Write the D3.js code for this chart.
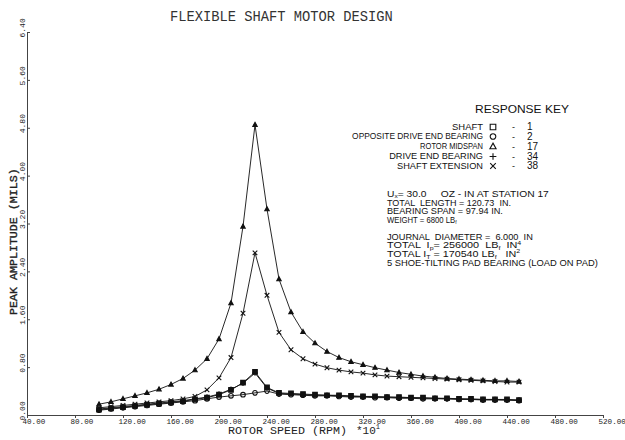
<!DOCTYPE html>
<html><head><meta charset="utf-8">
<script src="https://cdn.jsdelivr.net/npm/d3@7"></script>
<style>
body{margin:0;background:#fff;}
svg{display:block;}
</style></head>
<body>
<svg id="c" width="625" height="440"></svg>
<script>
// ---- data ----
const speeds = [100,110,120,130,140,150,160,170,180,190,200,210,220,230,240,250,260,270,280,290,300,310,320,330,340,350,360,370,380,390,400,410,420,430,440,450];
const shaft      = [0.09,0.11,0.13,0.15,0.17,0.19,0.21,0.23,0.26,0.29,0.34,0.42,0.54,0.72,0.46,0.37,0.36,0.35,0.34,0.33,0.33,0.32,0.31,0.31,0.30,0.30,0.29,0.29,0.28,0.28,0.27,0.27,0.26,0.26,0.26,0.25];
const oppDrive   = [0.08,0.10,0.12,0.14,0.16,0.18,0.20,0.22,0.24,0.27,0.30,0.32,0.34,0.37,0.40,0.35,0.34,0.33,0.32,0.32,0.31,0.30,0.30,0.29,0.29,0.28,0.28,0.27,0.27,0.27,0.26,0.26,0.25,0.25,0.25,0.24];
const midspan    = [0.18,0.22,0.27,0.32,0.37,0.43,0.51,0.61,0.75,0.94,1.27,1.87,3.15,4.85,3.44,2.27,1.72,1.39,1.20,1.06,0.96,0.89,0.84,0.79,0.75,0.71,0.68,0.65,0.63,0.61,0.60,0.59,0.58,0.57,0.57,0.56];
const driveEnd   = [0.10,0.12,0.14,0.16,0.18,0.20,0.22,0.24,0.27,0.30,0.35,0.43,0.53,0.70,0.45,0.36,0.35,0.34,0.33,0.33,0.32,0.31,0.31,0.30,0.30,0.29,0.29,0.28,0.28,0.27,0.27,0.26,0.26,0.26,0.25,0.25];
const extension  = [0.12,0.14,0.16,0.18,0.20,0.22,0.24,0.27,0.31,0.42,0.62,0.96,1.70,2.71,2.00,1.38,1.09,0.94,0.85,0.79,0.75,0.72,0.70,0.67,0.65,0.64,0.63,0.62,0.61,0.60,0.59,0.58,0.57,0.56,0.55,0.55];

const xTicks = [40,80,120,160,200,240,280,320,360,400,440,480,520];
const xTickLabels = ["40.00","80.00","120.00","160.00","200.00","240.00","280.00","320.00","360.00","400.00","440.00","480.00","520.00"];
const yTicks = [0,0.8,1.6,2.4,3.2,4.0,4.8,5.6,6.4];
const yTickLabels = ["0.00","0.80","1.60","2.40","3.20","4.00","4.80","5.60","6.40"];

const legendNames = ["SHAFT","OPPOSITE DRIVE END BEARING","ROTOR MIDSPAN","DRIVE END BEARING","SHAFT EXTENSION"];
const legendStations = ["1","2","17","34","38"];
const legendSymbols = ["square","circle","triangle","plus","cross"];

const title = "FLEXIBLE SHAFT MOTOR DESIGN";
const xTitle = "ROTOR SPEED (RPM)";
const yTitle = "PEAK AMPLITUDE (MILS)";

// ---- setup ----
const svg = d3.select("#c");
const x = d3.scaleLinear().domain([40,520]).range([27,603]);
const y = d3.scaleLinear().domain([0,6.4]).range([415,32]);
const ink = "#111";
const mono = "Liberation Mono, monospace";

function fit(sel, ax, w){
  const bw = sel.node().getComputedTextLength();
  if(bw>0){ const s = w/bw; sel.attr("transform",`translate(${ax},0) scale(${s},1) translate(${-ax},0)`); }
}

// title
const t = svg.append("text").attr("x",170).attr("y",21).attr("font-family",mono)
  .attr("font-size",14).attr("fill","#333").text(title);
fit(t,170,223);

// axes
const xAxis = d3.axisBottom(x).tickValues(xTicks).tickFormat((d,i)=>xTickLabels[i]).tickSizeInner(3).tickSizeOuter(0);
const gx = svg.append("g").attr("transform","translate(0,415)").call(xAxis);
gx.select(".domain").attr("stroke","#444").attr("stroke-width",1);
gx.selectAll(".tick line").attr("stroke","#444");
gx.selectAll(".tick text").attr("text-anchor","start").attr("x",-5).attr("y",8.5).attr("dy",0)
  .attr("font-family",mono).attr("font-size",7.6).attr("fill","#222");

const yAxis = d3.axisLeft(y).tickValues(yTicks).tickFormat((d,i)=>yTickLabels[i]).tickSizeInner(-3).tickSizeOuter(0);
const gy = svg.append("g").attr("transform","translate(27,0)").call(yAxis);
gy.select(".domain").attr("stroke","#444").attr("stroke-width",1);
gy.selectAll(".tick line").attr("stroke","#444");
gy.selectAll(".tick text").attr("text-anchor","start").attr("transform","rotate(-90)")
  .attr("x",-5).attr("y",-2.5).attr("dy",0)
  .attr("font-family",mono).attr("font-size",8).attr("fill","#222");

// axis titles
const xt = svg.append("text").attr("x",228).attr("y",434).attr("font-family",mono)
  .attr("font-size",11).attr("fill","#222").text(xTitle);
fit(xt,228,119);
const xm = svg.append("text").attr("x",356).attr("y",434).attr("font-family",mono)
  .attr("font-size",11).attr("fill","#222");
xm.append("tspan").text("*10");
xm.append("tspan").attr("dy",-5).attr("font-size",7).text("1");

const yt = svg.append("text").attr("transform","translate(17,315) rotate(-90)")
  .attr("font-family",mono).attr("font-size",10.5).attr("stroke","#222").attr("stroke-width",0.35)
  .attr("fill","#222").text(yTitle);
{ const bw = yt.node().getComputedTextLength(); yt.attr("transform",`translate(17,315) rotate(-90) scale(${147/bw},1)`); }

// ---- series ----
const series = [
  {vals: oppDrive, sym:"circle"},
  {vals: driveEnd, sym:"plus"},
  {vals: shaft, sym:"square"},
  {vals: extension, sym:"cross"},
  {vals: midspan, sym:"triangle"}
];
const line = d3.line().x((d,i)=>x(speeds[i])).y(d=>y(d));
const plot = svg.append("g");

function marker(g, type, cx, cy, r, filled){
  let p;
  if(type==="square") p = `M${cx-r},${cy-r}H${cx+r}V${cy+r}H${cx-r}Z`;
  else if(type==="circle") p = `M${cx+r},${cy}A${r},${r} 0 1 1 ${cx-r},${cy}A${r},${r} 0 1 1 ${cx+r},${cy}Z`;
  else if(type==="triangle") p = `M${cx},${cy-r*1.2}L${cx+r*1.1},${cy+r*0.8}L${cx-r*1.1},${cy+r*0.8}Z`;
  else if(type==="plus") p = `M${cx-r*1.2},${cy}H${cx+r*1.2}M${cx},${cy-r*1.2}V${cy+r*1.2}`;
  else p = `M${cx-r},${cy-r}L${cx+r},${cy+r}M${cx-r},${cy+r}L${cx+r},${cy-r}`;
  g.append("path").attr("d",p).attr("stroke",ink).attr("stroke-width",1.1)
    .attr("fill", (filled && (type==="square"||type==="triangle"||type==="circle")) ? ink : "none");
}

series.forEach(s=>{
  plot.append("path").datum(s.vals).attr("d",line).attr("fill","none").attr("stroke",ink).attr("stroke-width",0.9);
  s.vals.forEach((v,i)=>{
    const filled = s.sym==="square" || s.sym==="triangle";
    const r = s.sym==="triangle" ? 2 : 2.3;
    marker(plot, s.sym, x(speeds[i]), y(v), r, filled);
  });
});

// ---- legend ----
const sans = "Liberation Sans, Arial, sans-serif";
const rk = svg.append("text").attr("x",475).attr("y",113).attr("font-family",sans).attr("font-size",11).attr("fill",ink).text("RESPONSE KEY");
fit(rk,475,94);
const legStart = [452,352,420,389,397];
const legBase = [130,139.5,149.5,159.5,169];
legendNames.forEach((n,i)=>{
  const tx = svg.append("text").attr("x",483).attr("y",legBase[i]).attr("text-anchor","end")
    .attr("font-family",sans).attr("font-size",9.5).attr("fill",ink).text(n);
  fit(tx,483,483-legStart[i]);
  const g = svg.append("g");
  marker(g, legendSymbols[i], 493, legBase[i]-3, 2.8, false);
  svg.append("text").attr("x",512).attr("y",legBase[i]).attr("font-family",sans).attr("font-size",9).attr("fill",ink).text("-");
  svg.append("text").attr("x",527).attr("y",legBase[i]).attr("font-family",sans).attr("font-size",10).attr("fill",ink).text(legendStations[i]);
});

// ---- notes ----
const notes = [
  {y:197, w:162, parts:[["U",0],["x",1],["= 30.0     OZ - IN AT STATION 17",0]]},
  {y:206, w:124, parts:[["TOTAL  LENGTH = 120.73  IN.",0]]},
  {y:214.5, w:116, parts:[["BEARING SPAN = 97.94 IN.",0]]},
  {y:223, w:70, parts:[["WEIGHT = 6800 LB",0],["f",1]]},
  {y:240, w:146, parts:[["JOURNAL  DIAMETER =  6.000  IN",0]]},
  {y:248.5, w:135, parts:[["TOTAL  I",0],["p",1],["= 256000  LB",0],["f",1],["  IN",0],["4",2]]},
  {y:257, w:134, parts:[["TOTAL I",0],["T",1],[" = 170540 LB",0],["f",1],["   IN",0],["2",2]]},
  {y:266, w:211, parts:[["5 SHOE-TILTING PAD BEARING (LOAD ON PAD)",0]]}
];
notes.forEach(nl=>{
  const tx = svg.append("text").attr("x",387).attr("y",nl.y).attr("font-family",sans).attr("font-size",9.3).attr("fill",ink).attr("xml:space","preserve");
  let prev = 0;
  nl.parts.forEach(([s,k])=>{
    const off = k===1 ? 1.5 : (k===2 ? -3.5 : 0);
    const ts = tx.append("tspan").attr("dy", off-prev).text(s);
    if(k) ts.attr("font-size",6);
    prev = off;
  });
  const bw = tx.node().getBBox().width;
  tx.attr("transform",`translate(387,0) scale(${nl.w/bw},1) translate(-387,0)`);
});
</script>
</body></html>
